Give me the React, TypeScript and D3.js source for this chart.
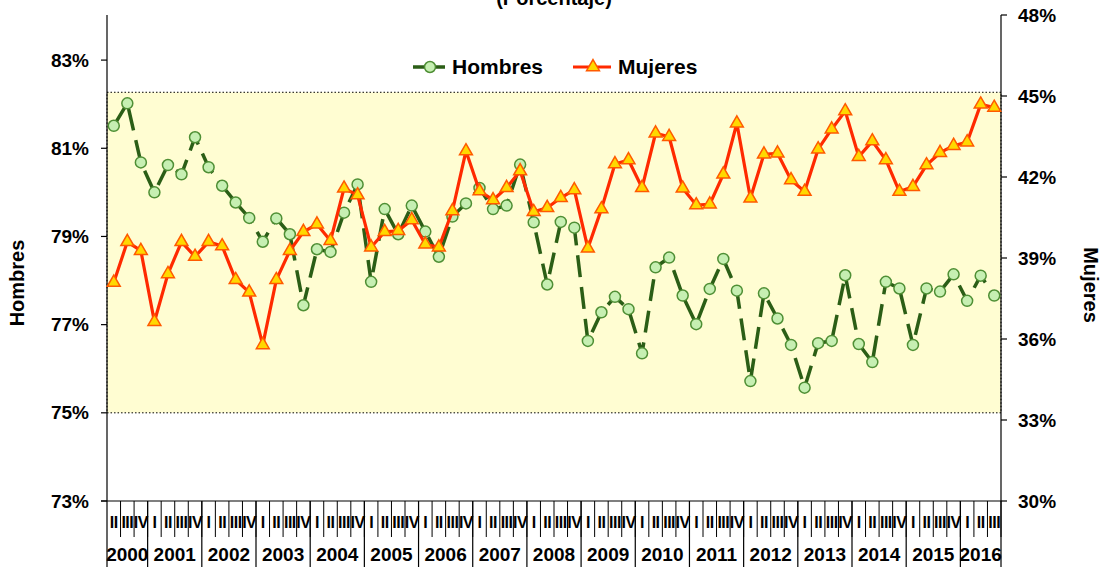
import React from 'react';
import * as d3 from 'd3';

// quarterly series, 2000-II .. 2016-III
const years = ['2000', '2001', '2002', '2003', '2004', '2005', '2006', '2007', '2008',
  '2009', '2010', '2011', '2012', '2013', '2014', '2015', '2016'];
const quarterNames = ['I', 'II', 'III', 'IV'];
const skipFirst = 1; // 2000 starts at quarter II
const skipLast = 1;  // 2016 ends at quarter III

const hombres = [
  81.51, 82.02, 80.68, 80.00, 80.62, 80.41, 81.25, 80.57, 80.15, 79.77,
  79.42, 78.88, 79.41, 79.05, 77.44, 78.71, 78.65, 79.54, 80.18, 77.97,
  79.62, 79.05, 79.70, 79.11, 78.54, 79.45, 79.75, 80.10, 79.62, 79.70,
  80.63, 79.32, 77.91, 79.33, 79.20, 76.63, 77.28, 77.63, 77.35, 76.35,
  78.30, 78.52, 77.66, 77.01, 77.81, 78.49, 77.77, 75.72, 77.71, 77.14,
  76.54, 75.57, 76.58, 76.63, 78.12, 76.56, 76.15, 77.97, 77.82, 76.54,
  77.82, 77.75, 78.14, 77.54, 78.11, 77.66,
];
const mujeres = [
  38.09, 39.60, 39.27, 36.64, 38.41, 39.60, 39.05, 39.60, 39.44, 38.19,
  37.73, 35.78, 38.19, 39.27, 39.97, 40.25, 39.64, 41.58, 41.33, 39.40,
  39.97, 40.01, 40.41, 39.51, 39.40, 40.74, 42.96, 41.48, 41.15, 41.60,
  42.22, 40.71, 40.86, 41.23, 41.52, 39.36, 40.81, 42.48, 42.63, 41.60,
  43.62, 43.49, 41.58, 40.96, 40.99, 42.10, 43.99, 41.21, 42.84, 42.88,
  41.89, 41.46, 43.03, 43.77, 44.44, 42.75, 43.33, 42.63, 41.46, 41.64,
  42.44, 42.90, 43.16, 43.29, 44.69, 44.57,
];

const leftTicks = [73, 75, 77, 79, 81, 83];
const rightTicks = [30, 33, 36, 39, 42, 45, 48];
const shadedBand = [75, 82.27]; // on the Hombres scale

const FONT = '"Liberation Sans", Arial, sans-serif';
const W = 1103, H = 567;
const L = 107, R = 1001, T = 15, B = 501;

type Period = { year: string; q: string; key: string };

export default function App() {
  const all: Period[] = years.flatMap(y => quarterNames.map(q => ({ year: y, q, key: `${y}-${q}` })));
  const periods = all.slice(skipFirst, all.length - skipLast);

  const x = d3.scaleBand<string>().domain(periods.map(p => p.key)).range([L, R]).padding(0);
  const bw = x.bandwidth();
  const cx = (i: number) => (x(periods[i].key) as number) + bw / 2;

  const yL = d3.scaleLinear().domain([73, 84]).range([B, T + 1]);
  const yR = d3.scaleLinear().domain([30, 48]).range([B, T]);

  const lineH = d3.line<number>().x((_, i) => cx(i)).y(d => yL(d));
  const lineM = d3.line<number>().x((_, i) => cx(i)).y(d => yR(d));
  const tri = d3.symbol(d3.symbolTriangle, 72)() as string;

  // year boundaries
  const yearSpans = years.map(y => {
    const first = periods.find(p => p.year === y)!;
    const last = [...periods].reverse().find(p => p.year === y)!;
    const x0 = x(first.key) as number;
    const x1 = (x(last.key) as number) + bw;
    return { y, x0, x1 };
  });

  const greenLine = '#2b5e16';
  const redLine = '#ff2a00';

  return (
    <div style={{ position: 'absolute', left: 0, top: 0 }}>
      <svg width={W} height={H} style={{ display: 'block', background: '#fff' }} fontFamily={FONT} fontWeight="bold">
        {/* shaded band */}
        <rect x={L} y={yL(shadedBand[1])} width={R - L} height={yL(shadedBand[0]) - yL(shadedBand[1])}
          fill="#fffdd2" stroke="#000" strokeWidth={1} strokeDasharray="1.5,2" />

        {/* title (cut at the top edge, as in the source) */}
        <text x={554} y={5} textAnchor="middle" fontSize={20}>(Porcentaje)</text>

        {/* left axis */}
        <line x1={L} x2={L} y1={T} y2={B} stroke="#000" strokeWidth={1.2} />
        {leftTicks.map(t => (
          <g key={t}>
            <line x1={L - 6} x2={L} y1={yL(t)} y2={yL(t)} stroke="#000" strokeWidth={1.2} />
            <text x={89} y={yL(t)} dy="0.35em" textAnchor="end" fontSize={19}>{`${t}%`}</text>
          </g>
        ))}
        <text transform={`translate(24,283) rotate(-90)`} textAnchor="middle" fontSize={20}>Hombres</text>

        {/* right axis */}
        <line x1={R} x2={R} y1={T} y2={B} stroke="#000" strokeWidth={1.2} />
        {rightTicks.map(t => (
          <g key={t}>
            <line x1={R} x2={R + 6} y1={yR(t)} y2={yR(t)} stroke="#000" strokeWidth={1.2} />
            <text x={1018} y={yR(t)} dy="0.35em" textAnchor="start" fontSize={19}>{`${t}%`}</text>
          </g>
        ))}
        <text transform={`translate(1084,285) rotate(90)`} textAnchor="middle" fontSize={20}>Mujeres</text>

        {/* bottom axis */}
        <line x1={L - 6} x2={R} y1={B} y2={B} stroke="#000" strokeWidth={1.2} />
        {periods.map((p, i) => (
          <g key={p.key}>
            <line x1={(x(p.key) as number) + bw} x2={(x(p.key) as number) + bw} y1={B} y2={537} stroke="#000" strokeWidth={1} />
            <text x={cx(i)} y={528} textAnchor="middle" fontSize={16} letterSpacing={-0.5}>{p.q}</text>
          </g>
        ))}
        {yearSpans.map(ys => (
          <g key={ys.y}>
            <line x1={ys.x0} x2={ys.x0} y1={B} y2={H} stroke="#000" strokeWidth={1.2} />
            <text x={(ys.x0 + ys.x1) / 2} y={561} textAnchor="middle" fontSize={19}>{ys.y}</text>
          </g>
        ))}
        <line x1={R} x2={R} y1={B} y2={H} stroke="#000" strokeWidth={1.2} />

        {/* Hombres */}
        <path d={lineH(hombres) as string} fill="none" stroke={greenLine} strokeWidth={3.5} strokeDasharray="22,10" />
        {hombres.map((v, i) => (
          <circle key={i} cx={cx(i)} cy={yL(v)} r={5.5} fill="#c6efb2" stroke="#4f8f35" strokeWidth={1.5} />
        ))}

        {/* Mujeres */}
        <path d={lineM(mujeres) as string} fill="none" stroke={redLine} strokeWidth={3.2} strokeLinejoin="round" />
        {mujeres.map((v, i) => (
          <path key={i} d={tri} transform={`translate(${cx(i)},${yR(v)})`} fill="#ffd800" stroke="#ff5a00" strokeWidth={1.5} />
        ))}

        {/* legend */}
        <line x1={413} x2={447} y1={67} y2={67} stroke={greenLine} strokeWidth={3.5} strokeDasharray="11,10" />
        <circle cx={430} cy={67} r={5.5} fill="#c6efb2" stroke="#4f8f35" strokeWidth={1.5} />
        <text x={452} y={67} dy="0.35em" fontSize={21}>Hombres</text>
        <line x1={573} x2={611} y1={67} y2={67} stroke={redLine} strokeWidth={3.2} />
        <path d={tri} transform="translate(593,67)" fill="#ffd800" stroke="#ff5a00" strokeWidth={1.5} />
        <text x={618} y={67} dy="0.35em" fontSize={21}>Mujeres</text>
      </svg>
    </div>
  );
}
